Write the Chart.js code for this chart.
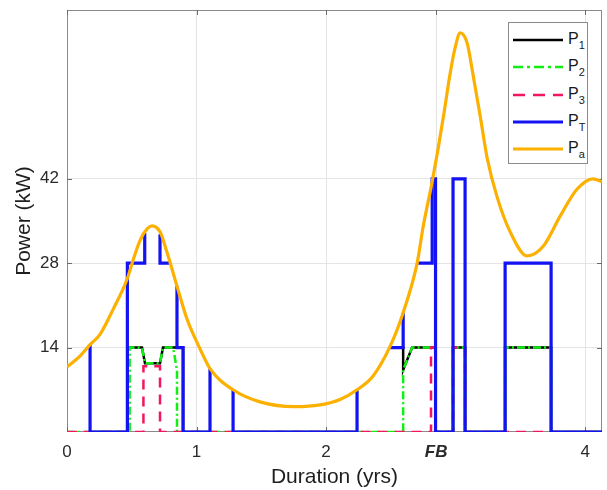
<!DOCTYPE html>
<html>
<head>
<meta charset="utf-8">
<script src="https://cdn.jsdelivr.net/npm/chart.js@4.4.1/dist/chart.umd.min.js"></script>
<style>
  html, body { margin: 0; padding: 0; background: #ffffff; }
  #wrap { position: relative; width: 607px; height: 490px; font-family: 'Liberation Sans', Arial, Helvetica, sans-serif; }
  #legend { position: absolute; left: 508px; top: 22px; width: 80px; height: 142px; border: 1px solid #8a8a8a; background: #ffffff; box-sizing: border-box; }
  .item { position: absolute; left: 0; height: 20px; width: 80px; }
  .item svg { position: absolute; left: 4px; top: 7px; }
  .item span { position: absolute; left: 59px; top: 0px; font-size: 16px; color: #1a1a1a; line-height: 18px; }
  .item sub { font-size: 11px; vertical-align: -5px; line-height: 0; }
</style>
</head>
<body>
<div id="wrap">
  <canvas id="c" width="607" height="490"></canvas>
  <div id="legend"></div>
</div>
<script>
// ---- tick definitions ----
const xTickValues = [0, 1, 2, 2.85, 4];
const xTickLabels = ['0', '1', '2', 'FB', '4'];
const yTickValues = [14, 28, 42];

// ---- series (duration in yrs, power in kW) ----
const paX = [0, 0.10, 0.178, 0.255, 0.355, 0.463, 0.51, 0.564, 0.618, 0.656, 0.718, 0.772, 0.849, 0.927, 1.027, 1.104, 1.282, 1.49, 1.76, 1.954, 2.108, 2.239, 2.363, 2.494, 2.595, 2.703, 2.749, 2.819, 2.865, 2.911, 2.958, 2.996, 3.035, 3.089, 3.135, 3.189, 3.243, 3.32, 3.421, 3.552, 3.676, 3.807, 3.938, 4.062, 4.13];
const paY = [10.8, 12.6, 14.5, 16.2, 20.3, 25.3, 28.5, 31.8, 33.7, 34.2, 33.2, 29.8, 24.2, 18.7, 13.8, 10.5, 7.0, 5.0, 4.2, 4.5, 5.4, 7.0, 9.3, 14.2, 19.8, 28.0, 34.0, 41.5, 47.0, 53.0, 59.5, 63.7, 66.2, 64.5, 59.2, 52.5, 45.5, 39.0, 33.2, 29.2, 30.8, 35.8, 40.3, 42.0, 41.5];

const ptX = [0.178, 0.178, 0.466, 0.466, 0.600, 0.600, 0.66, 0.718, 0.718, 0.787, 0.82, 0.849, 0.849, 0.896, 0.896, 1.104, 1.104, 1.2, 1.282, 1.282, 2.239, 2.239, 2.4, 2.494, 2.595, 2.595, 2.65, 2.703, 2.819, 2.819, 2.845, 2.845, 2.98, 2.98, 3.073, 3.073, 3.382, 3.382, 3.737, 3.737, 4.13];
const ptY = [14.5, 0, 0, 28, 28, 33, null, 32.8, 28, 28, null, 24.2, 14, 14, 0, 0, 10.5, null, 7, 0, 0, 7, null, 14, 14, 19.8, null, 28, 28, 42, 42, 0, 0, 42, 42, 0, 0, 28, 28, 0, 0];

const p1X = [0.178, 0.466, 0.466, 0.579, 0.602, 0.718, 0.741, 0.896, 0.896, 1.104, 1.104, 1.282, 2.239, 2.239, 2.494, 2.595, 2.595, 2.664, 2.845, 2.845, 2.98, 2.98, 3.073, 3.073, 3.382, 3.382, 3.737, 3.737, 4.13];
const p1Y = [0, 0, 14, 14, 11.4, 11.4, 14, 14, 0, 0, null, 0, 0, null, 14, 14, 10.3, 14, 14, 0, 0, 14, 14, 0, 0, 14, 14, 0, 0];

const p2X = [0, 0.484, 0.484, 0.579, 0.602, 0.718, 0.741, 0.819, 0.849, 0.849, 2.595, 2.595, 2.664, 2.845, 2.845, 2.98, 2.98, 3.073, 3.073, 3.382, 3.382, 3.737, 3.737, 4.13];
const p2Y = [0, 0, 14, 14, 11.4, 11.4, 14, 14, 10.3, 0, 0, 10.3, 14, 14, 0, 0, 14, 14, 0, 0, 14, 14, 0, 0];

const p3X = [0, 0.59, 0.59, 0.718, 0.718, 2.81, 2.81, 2.845, 2.845, 2.98, 2.98, 3.073, 3.073, 4.13];
const p3Y = [0, 0, 10.9, 10.9, 0, 0, 14, 14, 0, 0, 14, 14, 0, 0];

const seriesSub = ['1', '2', '3', 'T', 'a'];
const seriesColors = ['#000000', '#11ee11', '#f2175c', '#1212f2', '#fcb000'];
const seriesDash = [[], [8, 3, 2, 3], [10, 7], [], []];
const seriesWidth = [2.5, 2.5, 2.5, 3.2, 3.2];

const FONT = "'Liberation Sans', Arial, Helvetica, sans-serif";
const toPts = (xs, ys) => xs.map((x, i) => ({ x: x, y: ys[i] }));
const seriesData = [toPts(p1X, p1Y), toPts(p2X, p2Y), toPts(p3X, p3Y), toPts(ptX, ptY), toPts(paX, paY)];

const datasets = seriesData.map((d, i) => ({
  label: 'P' + seriesSub[i],
  data: d,
  borderColor: seriesColors[i],
  backgroundColor: seriesColors[i],
  borderWidth: seriesWidth[i],
  borderDash: seriesDash[i],
  pointRadius: 0,
  fill: false,
  spanGaps: false,
  tension: i === 4 ? 0.4 : 0,
  cubicInterpolationMode: i === 4 ? 'monotone' : 'default',
  borderCapStyle: 'butt',
  borderJoinStyle: 'miter',
  order: 5 - i
}));

const boxPlugin = {
  id: 'boxPlugin',
  beforeDatasetsDraw(chart) {
    const { ctx, chartArea: a, scales } = chart;
    ctx.save();
    ctx.strokeStyle = '#8a8a8a';
    ctx.lineWidth = 1;
    ctx.strokeRect(a.left + 0.5, a.top + 0.5, a.right - a.left - 1, a.bottom - a.top - 1);
    ctx.strokeStyle = '#6a6a6a';
    ctx.beginPath();
    xTickValues.forEach(v => {
      const px = Math.round(scales.x.getPixelForValue(v)) + 0.5;
      ctx.moveTo(px, a.bottom); ctx.lineTo(px, a.bottom - 5);
      ctx.moveTo(px, a.top); ctx.lineTo(px, a.top + 5);
    });
    yTickValues.forEach(v => {
      const py = Math.round(scales.y.getPixelForValue(v)) + 0.5;
      ctx.moveTo(a.left, py); ctx.lineTo(a.left + 5, py);
      ctx.moveTo(a.right, py); ctx.lineTo(a.right - 5, py);
    });
    ctx.stroke();
    ctx.restore();
  }
};

new Chart(document.getElementById('c'), {
  type: 'line',
  data: { datasets: datasets },
  options: {
    responsive: false,
    animation: false,
    events: [],
    layout: { padding: { top: 10, right: 5, left: 0, bottom: 0 } },
    plugins: { legend: { display: false }, tooltip: { enabled: false } },
    scales: {
      x: {
        type: 'linear',
        min: 0, max: 4.13,
        afterBuildTicks: s => { s.ticks = xTickValues.map(v => ({ value: v })); },
        afterFit: s => { s.height = 58; s.paddingLeft = 0; s.paddingRight = 0; s.paddingTop = 0; s.paddingBottom = 0; },
        border: { display: false },
        grid: { drawTicks: false, color: c => (c.tick && c.tick.value === 0) ? 'rgba(0,0,0,0)' : '#e4e4e4', lineWidth: 1 },
        ticks: {
          padding: 10, autoSkip: false, maxRotation: 0, color: '#2a2a2a',
          callback: v => xTickLabels[xTickValues.indexOf(v)],
          font: c => (c.tick && c.tick.value === 2.85)
            ? { family: FONT, size: 17, weight: 'bold', style: 'italic' }
            : { family: FONT, size: 17 }
        },
        title: { display: true, text: 'Duration (yrs)', color: '#1e1e1e', font: { family: FONT, size: 21 }, padding: { top: 0, bottom: 0 } }
      },
      y: {
        type: 'linear',
        min: 0, max: 70,
        afterBuildTicks: s => { s.ticks = yTickValues.map(v => ({ value: v })); },
        afterFit: s => { s.width = 67; s.paddingTop = 0; s.paddingBottom = 0; s.paddingLeft = 0; s.paddingRight = 0; },
        border: { display: false },
        grid: { drawTicks: false, color: '#e4e4e4', lineWidth: 1 },
        ticks: { padding: 8, color: '#2a2a2a', font: { family: FONT, size: 17 } },
        title: { display: true, text: 'Power (kW)', color: '#1e1e1e', font: { family: FONT, size: 21 }, padding: { top: 12, bottom: 0 } }
      }
    }
  },
  plugins: [boxPlugin]
});

// ---- legend (HTML, with subscripts) ----
const legend = document.getElementById('legend');
seriesSub.forEach((sub, i) => {
  const item = document.createElement('div');
  item.className = 'item';
  item.style.top = (7 + i * 27.3) + 'px';
  const dash = seriesDash[i].length ? (i === 2 ? '12 8' : '10 4 3 4') : 'none';
  item.innerHTML =
    '<svg width="50" height="6"><line x1="0" y1="3" x2="50" y2="3" stroke="' + seriesColors[i] +
    '" stroke-width="' + seriesWidth[i] + '" stroke-dasharray="' + dash + '"/></svg>' +
    '<span>P<sub>' + sub + '</sub></span>';
  legend.appendChild(item);
});
</script>
</body>
</html>
